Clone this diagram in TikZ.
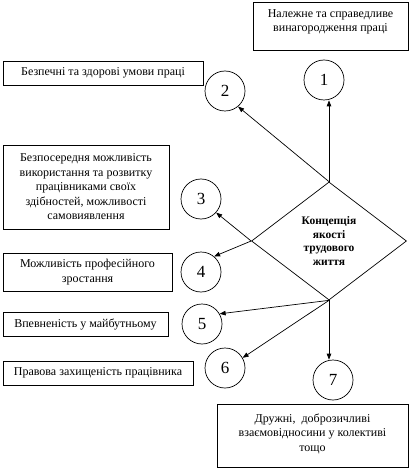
\documentclass[tikz,border=0pt]{standalone}
\usepackage{fontspec}
\setmainfont{Liberation Serif}
\usetikzlibrary{arrows.meta,shapes.geometric}
\begin{document}
\begin{tikzpicture}[x=1pt,y=-1pt,
  every path/.style={line width=0.7pt},
  box/.style={draw, inner sep=0pt, align=center, font=\fontsize{12}{14.5}\selectfont},
  num/.style={draw, circle, minimum size=40pt, inner sep=0pt, font=\fontsize{17}{19}\selectfont},
  hub/.style={draw, diamond, inner sep=0pt, minimum width=155pt, minimum height=118pt, align=center, font=\bfseries\fontsize{11.5}{13.7}\selectfont},
  arr/.style={-{Triangle[length=6pt,width=4.5pt]}}]
\useasboundingbox (0,0) rectangle (410,470);

% boxes
\node[box] (b1) at (330.5,26) {\parbox[c][48pt][t]{155pt}{\centering\vspace*{5pt}\strut Належне та справедливе\\винагородження праці}};
\node[box, minimum width=200pt, minimum height=24pt] (b2) at (103,73) {Безпечні та здорові умови праці};
\node[box, minimum width=166pt, minimum height=84pt] (b3) at (86,187) {Безпосередня можливість\\використання та розвитку\\працівниками своїх\\здібностей, можливості\\самовиявлення};
\node[box, minimum width=169pt, minimum height=38pt] (b4) at (87.5,272) {Можливість професійного\\зростання};
\node[box, minimum width=165pt, minimum height=24pt] (b5) at (85.5,324) {Впевненість у майбутньому};
\node[box, minimum width=190pt, minimum height=24pt] (b6) at (98,373) {Правова захищеність працівника};
\node[box] (b7) at (312.5,435.5) {\parbox[c][63pt][t]{191pt}{\centering\vspace*{8pt}\strut Дружні,\ \ доброзичливі\\взаємовідносини у колективі\\тощо}};

% circles
\node[num] (c1) at (324,80) {1};
\node[num] (c2) at (225,91) {2};
\node[num] (c3) at (201,199) {3};
\node[num] (c4) at (201,272) {4};
\node[num] (c5) at (202,324) {5};
\node[num] (c6) at (225,368) {6};
\node[num] (c7) at (333,380) {7};

% hub
\node[hub] (d) at (329,241) {Концепція\\якості\\трудового\\життя};

% arrows
\draw[arr] (d.north) -- (d.north |- c1.south);
\draw[arr] (d.north) -- (c2.-50);
\draw[arr] (d.west) -- (c3.-42);
\draw[arr] (d.west) -- (c4.50);
\draw[arr] (d.south) -- (c5.30);
\draw[arr] (d.south) -- (c6.30);
\draw[arr] (d.south) -- (d.south |- c7.north);
\end{tikzpicture}
\end{document}
